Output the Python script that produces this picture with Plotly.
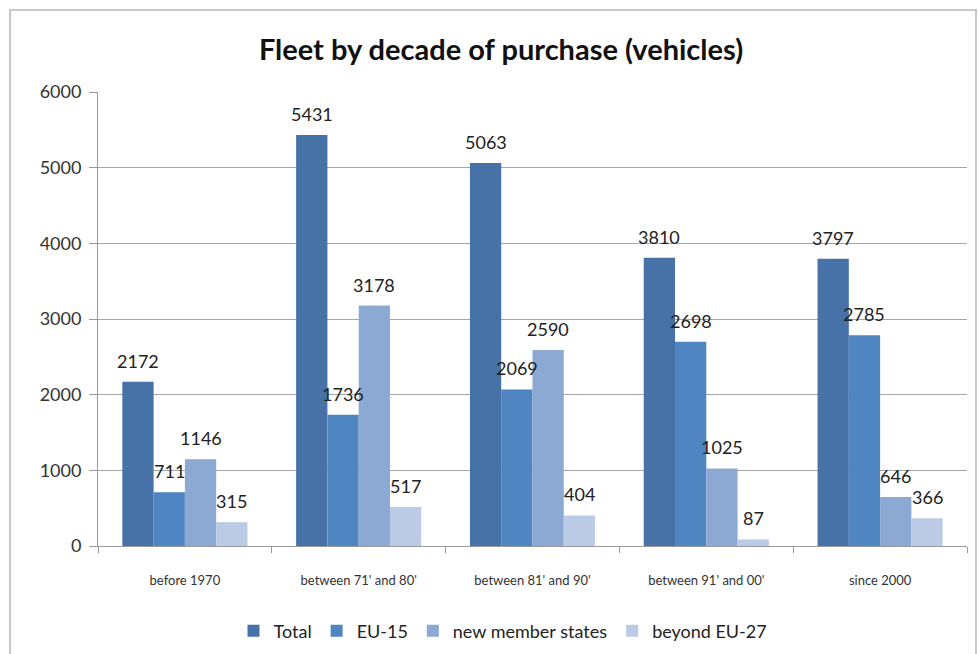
import plotly.graph_objects as go

# Fleet counts by decade of purchase
categories = ["before 1970", "between 71' and 80'", "between 81' and 90'",
              "between 91' and 00'", "since 2000"]
total = [2172, 5431, 5063, 3810, 3797]
eu15 = [711, 1736, 2069, 2698, 2785]
new_member_states = [1146, 3178, 2590, 1025, 646]
beyond_eu27 = [315, 517, 404, 87, 366]

series = [
    ("Total", total, "#4672a8"),
    ("EU-15", eu15, "#4f85c0"),
    ("new member states", new_member_states, "#8ca9d4"),
    ("beyond EU-27", beyond_eu27, "#bccbe5"),
]

FONT = "Lato"
W, H = 979, 654
L, R, T, B = 98, 12, 92, 108
BARGAP = 0.28

fig = go.Figure()
for name, vals, color in series:
    fig.add_trace(go.Bar(
        name=name, x=categories, y=vals,
        marker=dict(color=color, line=dict(width=0)),
    ))

pw, ph = W - L - R, H - T - B


def px_x(p):
    return (p - L) / pw


def px_y(p):
    return (H - B - p) / ph


# value labels sit above each bar and are drawn over neighbouring bars
bar_px = pw / len(categories) * (1 - BARGAP) / len(series)
for k, (name, vals, color) in enumerate(series):
    offset = (k - (len(series) - 1) / 2) * bar_px
    for cat, v in zip(categories, vals):
        fig.add_annotation(x=cat, y=v, text=str(v), showarrow=False,
                           xshift=offset, yshift=8, yanchor="bottom",
                           font=dict(family=FONT, size=18, color="#222222"))

# outer chart frame
fig.add_shape(type="rect", xref="paper", yref="paper",
              x0=px_x(10), x1=px_x(976), y0=px_y(670), y1=px_y(10),
              line=dict(color="#c8c8c8", width=2), fillcolor="rgba(0,0,0,0)",
              layer="below")

fig.update_layout(
    width=W, height=H,
    margin=dict(l=L, r=R, t=T, b=B, autoexpand=False),
    paper_bgcolor="white", plot_bgcolor="white",
    barmode="group", bargap=BARGAP, bargroupgap=0,
    title=dict(text="<b>Fleet by decade of purchase (vehicles)</b>",
               x=px_x(501), xref="paper", xanchor="center",
               y=1 - 50 / H, yanchor="middle",
               font=dict(family=FONT, size=29, color="#111111")),
    font=dict(family=FONT, color="#333333"),
    legend=dict(orientation="h", x=px_x(503), xanchor="center",
                y=px_y(631), yanchor="middle",
                font=dict(family=FONT, size=18, color="#222222"),
                itemwidth=30, traceorder="normal"),
    showlegend=True,
)
fig.update_yaxes(range=[0, 6000], dtick=1000, automargin=False,
                 showgrid=True, gridcolor="#a6a6a6", gridwidth=1,
                 showline=True, linecolor="#9a9a9a", linewidth=1,
                 ticks="outside", ticklen=8, tickcolor="#9a9a9a",
                 ticklabelstandoff=4,
                 tickfont=dict(family=FONT, size=18, color="#333333"),
                 zeroline=False)
fig.update_xaxes(showline=True, linecolor="#9a9a9a", linewidth=1,
                 automargin=False,
                 ticks="outside", ticklen=6, tickcolor="#9a9a9a",
                 tickson="boundaries", ticklabelstandoff=22,
                 tickfont=dict(family=FONT, size=13, color="#333333"))

fig.write_html("out.html")
